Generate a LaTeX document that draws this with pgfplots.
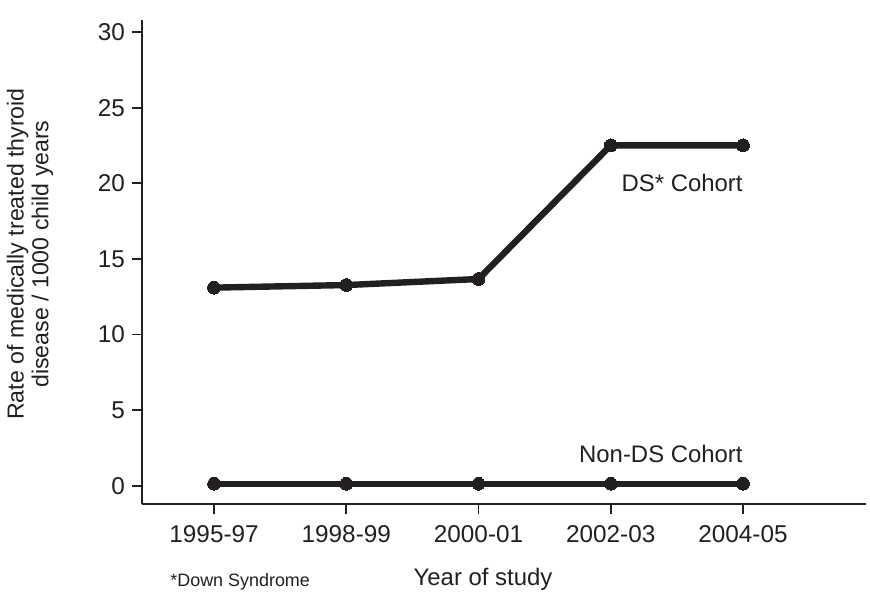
\documentclass[border=0pt]{standalone}
\usepackage{pgfplots}
\pgfplotsset{compat=1.18}
\usepackage{fontspec}
\setmainfont{Liberation Sans}

\definecolor{ink}{RGB}{35,31,32}

\begin{document}
\begin{tikzpicture}
\begin{axis}[
  scale only axis,
  width=362bp, height=242bp,
  xmin=-0.545, xmax=4.93,
  ymin=-1.21, ymax=30.8,
  axis lines=left,
  axis line style={-, line width=1bp, color=ink},
  tick style={line width=0.9bp, color=ink},
  major tick length=5bp,
  tick align=outside,
  xtick={0,1,2,3,4},
  xticklabels={1995-97,1998-99,2000-01,2002-03,2004-05},
  ytick={0,5,10,15,20,25,30},
  ticklabel style={font=\fontsize{12.2}{14}\selectfont, text=ink},
  xticklabel style={yshift=-2bp},
  /pgf/number format/assume math mode=true,
  ylabel={Rate of medically treated thyroid\\disease / 1000 child years},
  ylabel style={at={(axis description cs:-0.1547,0.5165)}, anchor=center, align=center, inner sep=0pt, font=\fontsize{11.6}{12.5}\selectfont, text=ink},
  clip=false,
]
% DS cohort
\addplot [ink, line width=3.2bp, line join=round, mark=*, mark size=3.2bp, mark options={solid, fill=ink, draw=ink, line width=0pt}]
table {%
x y
0 13.10
1 13.27
2 13.67
3 22.51
4 22.51
};
% Non-DS cohort
\addplot [ink, line width=3.2bp, line join=round, mark=*, mark size=3.2bp, mark options={solid, fill=ink, draw=ink, line width=0pt}]
table {%
x y
0 0.13
1 0.13
2 0.13
3 0.13
4 0.13
};
\node[anchor=base east, inner sep=0pt, font=\fontsize{12}{14}\selectfont, text=ink] at (axis cs:4,19.44) {DS* Cohort};
\node[anchor=base east, inner sep=0pt, font=\fontsize{12}{14}\selectfont, text=ink] at (axis cs:4,1.55) {Non-DS Cohort};
\path (rel axis cs:0,0) ++(14bp,-41bp) node[anchor=base west, inner sep=0pt, font=\fontsize{9}{11}\selectfont, text=ink] {*Down Syndrome};
\path (rel axis cs:0,0) ++(170.5bp,-40.5bp) node[anchor=base, inner sep=0pt, font=\fontsize{12}{14}\selectfont, text=ink] {Year of study};
% page extent
\path (rel axis cs:0,0) ++(-71bp,-48bp) rectangle ++(435bp,300bp);
\end{axis}
\end{tikzpicture}
\end{document}
